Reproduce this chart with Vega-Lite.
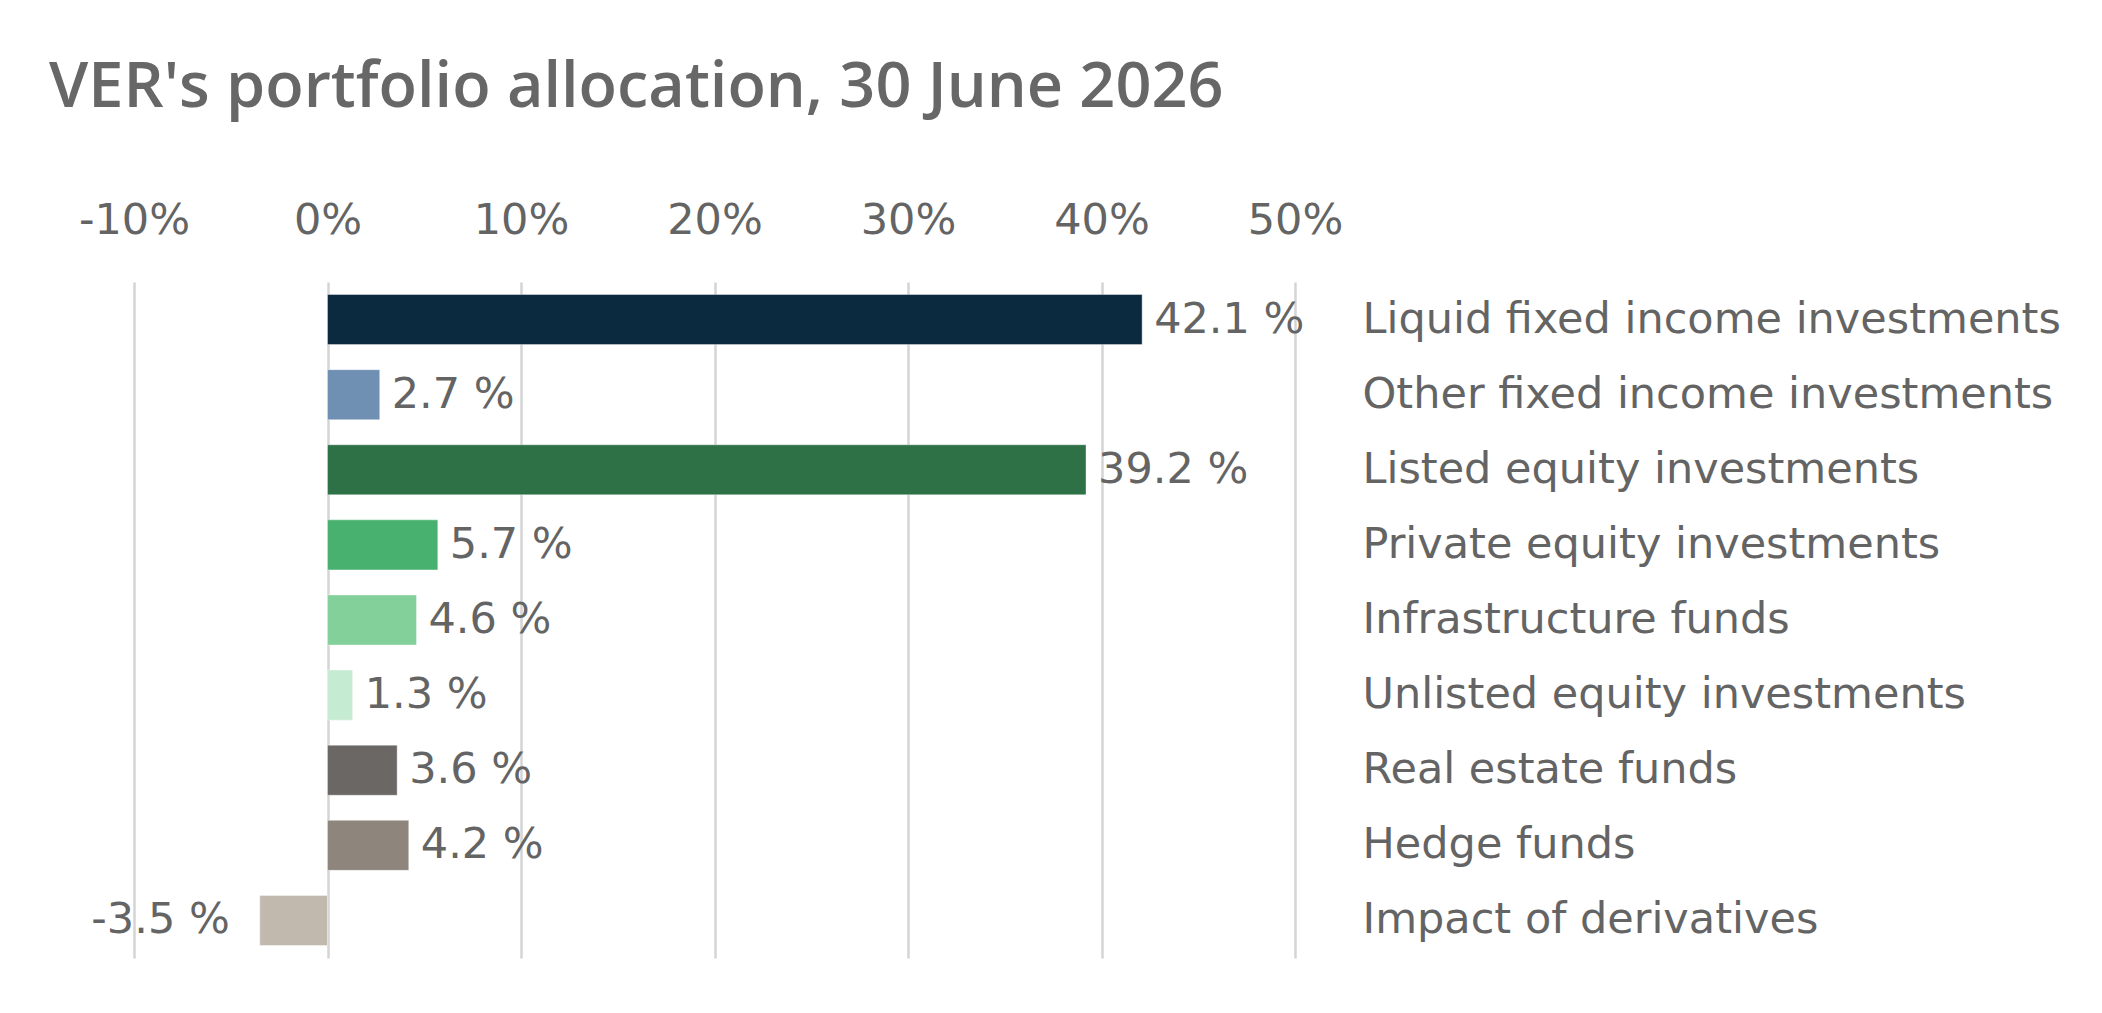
{
  "$schema": "https://vega.github.io/schema/vega-lite/v6.json",
  "width": 1161,
  "height": 676,
  "autosize": {"type": "none"},
  "padding": {"left": 134, "top": 282, "right": 807, "bottom": 55},
  "background": "white",
  "title": {
    "text": "VER's portfolio allocation, 30 June 2026",
    "anchor": "start",
    "frame": "group",
    "dx": -85,
    "offset": 29,
    "baseline": "alphabetic",
    "font": "Open Sans",
    "fontSize": 63,
    "fontWeight": 600,
    "color": "#676767"
  },
  "config": {
    "font": "DejaVu Sans",
    "view": {"stroke": null}
  },
  "data": {
    "values": [
      {"category": "Liquid fixed income investments", "share": 42.1},
      {"category": "Other fixed income investments", "share": 2.7},
      {"category": "Listed equity investments", "share": 39.2},
      {"category": "Private equity investments", "share": 5.7},
      {"category": "Infrastructure funds", "share": 4.6},
      {"category": "Unlisted equity investments", "share": 1.3},
      {"category": "Real estate funds", "share": 3.6},
      {"category": "Hedge funds", "share": 4.2},
      {"category": "Impact of derivatives", "share": -3.5}
    ]
  },
  "transform": [
    {"calculate": "datum.share + ' %'", "as": "label"}
  ],
  "encoding": {
    "y": {
      "field": "category",
      "type": "nominal",
      "sort": null,
      "scale": {"paddingInner": 0.333, "paddingOuter": 0.1667},
      "axis": {
        "orient": "right",
        "title": null,
        "domain": false,
        "ticks": false,
        "labelAlign": "left",
        "labelPadding": 67,
        "labelLimit": 0,
        "labelFontSize": 43,
        "labelColor": "#646464"
      }
    }
  },
  "layer": [
    {
      "mark": {"type": "bar", "stroke": "#ffffff", "strokeOpacity": 0.4, "strokeWidth": 1},
      "encoding": {
        "x": {
          "field": "share",
          "type": "quantitative",
          "scale": {"domain": [-10, 50], "nice": false, "zero": false},
          "axis": {
            "orient": "top",
            "title": null,
            "values": [-10, 0, 10, 20, 30, 40, 50],
            "labelExpr": "datum.value + '%'",
            "domain": false,
            "ticks": false,
            "grid": true,
            "gridColor": "#d4d4d4",
            "gridWidth": 2.5,
            "labelBaseline": "alphabetic",
            "labelPadding": 49,
            "labelFontSize": 43,
            "labelColor": "#646464",
            "labelFlush": false
          }
        },
        "color": {
          "field": "category",
          "type": "nominal",
          "sort": null,
          "scale": {
            "domain": [
              "Liquid fixed income investments",
              "Other fixed income investments",
              "Listed equity investments",
              "Private equity investments",
              "Infrastructure funds",
              "Unlisted equity investments",
              "Real estate funds",
              "Hedge funds",
              "Impact of derivatives"
            ],
            "range": ["#0c2a3f", "#7090b3", "#2f7147", "#49b170", "#84d09a", "#c5ebd2", "#6b6765", "#8e867d", "#c2b9ae"]
          },
          "legend": null
        }
      }
    },
    {
      "mark": {"type": "rule", "color": "#5a5a5a", "strokeWidth": 2},
      "encoding": {"x": {"datum": 0}}
    },
    {
      "transform": [{"filter": "datum.share >= 0"}],
      "mark": {"type": "text", "align": "left", "baseline": "middle", "dx": 12, "fontSize": 43, "color": "#646464"},
      "encoding": {
        "x": {"field": "share", "type": "quantitative"},
        "text": {"field": "label"}
      }
    },
    {
      "transform": [{"filter": "datum.share < 0"}],
      "mark": {"type": "text", "align": "right", "baseline": "middle", "dx": -30, "fontSize": 43, "color": "#646464"},
      "encoding": {
        "x": {"field": "share", "type": "quantitative"},
        "text": {"field": "label"}
      }
    }
  ]
}
